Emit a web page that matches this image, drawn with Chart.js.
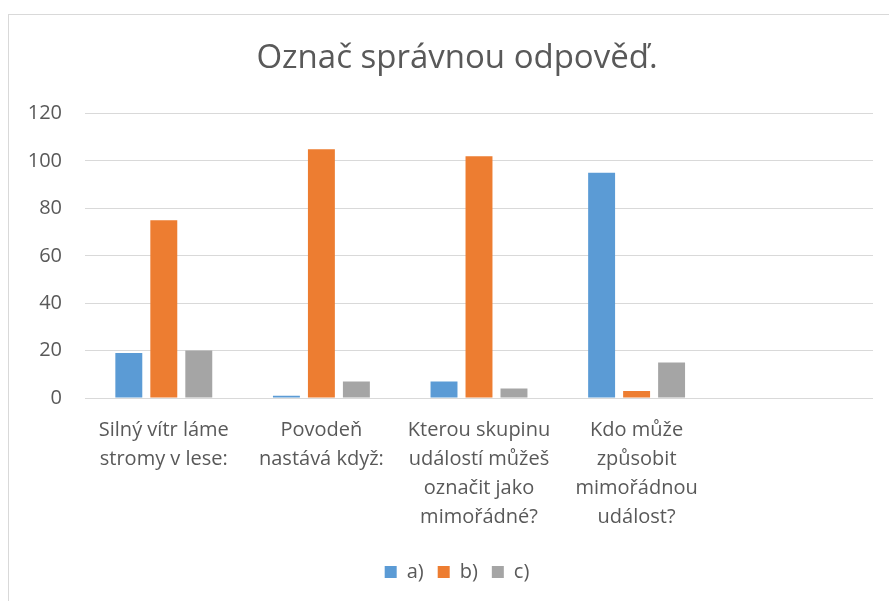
<!DOCTYPE html>
<html>
<head>
<meta charset="utf-8">
<script src="https://cdn.jsdelivr.net/npm/chart.js@4/dist/chart.umd.min.js"></script>
<style>
    html, body { margin: 0; padding: 0; background: #fff; overflow: hidden; }
    #frame { position: absolute; left: 8px; top: 14px; width: 900px; height: 600px; border: 1px solid #d9d9d9; }
</style>
</head>
<body>
<div id="frame"><canvas id="answersChart" width="900" height="600"></canvas></div>
<script>
// Chart data
const chartTitle = 'Označ správnou odpověď.';
const categories = [
    ['Silný vítr láme', 'stromy v lese:'],
    ['Povodeň', 'nastává když:'],
    ['Kterou skupinu', 'událostí můžeš', 'označit jako', 'mimořádné?'],
    ['Kdo může', 'způsobit', 'mimořádnou', 'událost?'],
    ''
];
const seriesNames = ['a)', 'b)', 'c)'];
const answersA = [19, 1, 7, 95, null];
const answersB = [75, 105, 102, 3, null];
const answersC = [20, 7, 4, 15, null];
const yTicks = [0, 20, 40, 60, 80, 100, 120];

const seriesColors = ['#5B9BD5', '#ED7D31', '#A5A5A5'];
const textColor = '#595959';
const fontFamily = "'Open Sans', 'Noto Sans', sans-serif";

function initializeAnswersChart() {
    const ctx = document.getElementById('answersChart');
    if (!ctx) return;

    const values = [answersA, answersB, answersC];

    new Chart(ctx, {
        type: 'bar',
        data: {
            labels: categories,
            datasets: seriesNames.map((name, i) => ({
                label: name,
                data: values[i],
                backgroundColor: seriesColors[i],
                borderWidth: 0,
                categoryPercentage: 0.666,
                barPercentage: 0.77
            }))
        },
        options: {
            responsive: false,
            animation: false,
            layout: {
                padding: { left: 18, right: 22, top: 0, bottom: 23 }
            },
            scales: {
                x: {
                    grid: { display: false, drawTicks: false },
                    border: { display: false },
                    ticks: {
                        color: textColor,
                        padding: 18,
                        maxRotation: 0,
                        autoSkip: false,
                        font: { family: fontFamily, size: 20, lineHeight: 1.45 }
                    },
                    afterFit: scale => { scale.height = 150; }
                },
                y: {
                    min: yTicks[0],
                    max: yTicks[yTicks.length - 1],
                    grid: { color: '#d9d9d9', lineWidth: 1, drawTicks: false },
                    border: { display: false },
                    ticks: {
                        stepSize: yTicks[1] - yTicks[0],
                        color: textColor,
                        padding: 23,
                        font: { family: fontFamily, size: 20 }
                    },
                    afterFit: scale => { scale.width = 58; }
                },
                // empty right margin so the title and legend centre like the original
                yRight: {
                    axis: 'y',
                    position: 'right',
                    grid: { display: false, drawTicks: false },
                    border: { display: false },
                    ticks: { display: false },
                    afterFit: scale => { scale.width = 14; }
                }
            },
            plugins: {
                title: {
                    display: true,
                    text: chartTitle,
                    color: textColor,
                    font: { family: fontFamily, size: 33, weight: 'normal' },
                    padding: { top: 24, bottom: 35 }
                },
                legend: {
                    position: 'bottom',
                    labels: {
                        color: textColor,
                        boxWidth: 12,
                        boxHeight: 12,
                        padding: 14,
                        font: { family: fontFamily, size: 20 }
                    }
                },
                tooltip: { enabled: false }
            }
        }
    });
}

initializeAnswersChart();
</script>
</body>
</html>
